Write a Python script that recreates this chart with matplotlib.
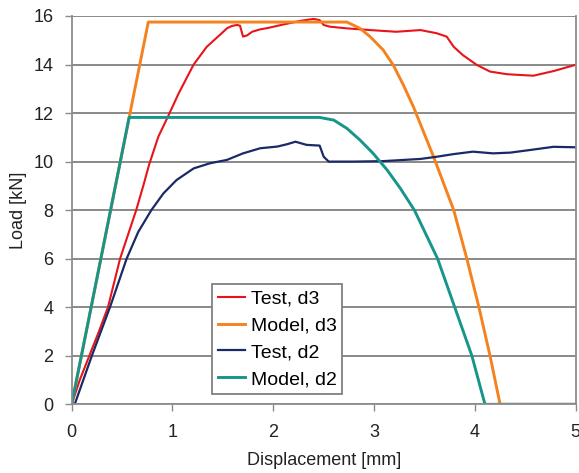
import matplotlib
matplotlib.use("Agg")
import matplotlib.pyplot as plt

plt.rcParams['font.family'] = ['Liberation Sans', 'DejaVu Sans']

# Test, d3
test_d3_x = [0.0, 0.08, 0.175, 0.27, 0.36, 0.48, 0.56, 0.64, 0.71, 0.77, 0.86, 0.96, 1.06, 1.21, 1.34, 1.47,
             1.54, 1.59, 1.64, 1.67, 1.70, 1.74, 1.79, 1.87, 1.94, 2.10, 2.27, 2.40, 2.46, 2.50, 2.56,
             2.73, 2.96, 3.22, 3.46, 3.62, 3.72, 3.79, 3.88, 4.02, 4.15, 4.32, 4.58, 4.78, 5.0]
test_d3_y = [0.0, 1.0, 2.0, 3.0, 4.0, 6.0, 7.0, 8.0, 9.0, 9.9, 11.03, 11.9, 12.8, 14.0, 14.73, 15.22,
             15.49, 15.59, 15.63, 15.6, 15.15, 15.2, 15.35, 15.45, 15.5, 15.65, 15.8, 15.88, 15.83, 15.63, 15.56,
             15.49, 15.42, 15.35, 15.42, 15.29, 15.15, 14.73, 14.39, 13.98, 13.71, 13.6, 13.54, 13.73, 13.99]

# Model, d3
model_d3_x = [0.0, 0.76, 2.73, 2.86, 2.96, 3.09, 3.19, 3.29, 3.39, 3.49, 3.59, 3.69, 3.79, 3.92, 4.04,
              4.15, 4.25, 5.0]
model_d3_y = [0.0, 15.75, 15.75, 15.49, 15.15, 14.6, 13.98, 13.16, 12.26, 11.23, 10.2, 9.1, 8.0, 6.0, 4.0,
              2.0, 0.0, 0.0]

# Test, d2
test_d2_x = [0.03, 0.115, 0.2, 0.29, 0.38, 0.545, 0.66, 0.79, 0.91, 1.04, 1.21, 1.37, 1.54, 1.70, 1.87,
             2.04, 2.14, 2.22, 2.33, 2.46, 2.50, 2.55, 2.79, 3.09, 3.46, 3.62, 3.79, 3.98, 4.18, 4.35,
             4.55, 4.78, 5.0]
test_d2_y = [0.0, 1.0, 2.0, 3.0, 4.0, 6.0, 7.1, 8.0, 8.69, 9.24, 9.72, 9.93, 10.07, 10.34, 10.55,
             10.62, 10.72, 10.82, 10.69, 10.66, 10.2, 10.0, 10.0, 10.02, 10.11, 10.2, 10.31, 10.41, 10.34, 10.37,
             10.48, 10.61, 10.59]

# Model, d2
model_d2_x = [0.0, 0.57, 2.46, 2.60, 2.73, 2.86, 2.99, 3.13, 3.26, 3.40, 3.63, 3.80, 3.97, 4.10, 5.0]
model_d2_y = [0.0, 11.82, 11.82, 11.71, 11.37, 10.89, 10.34, 9.65, 8.9, 8.0, 6.0, 4.0, 2.0, 0.0, 0.0]

x_ticks = [0, 1, 2, 3, 4, 5]
y_ticks = [0, 2, 4, 6, 8, 10, 12, 14, 16]

fig = plt.figure(figsize=(5.79, 4.73), dpi=100)
ax = fig.add_axes([0.1238, 0.1452, 0.8705, 0.821])

ax.plot(test_d3_x, test_d3_y, color='#E8141A', lw=1.5, label='Test, d3')
ax.plot(model_d3_x, model_d3_y, color='#F5821F', lw=2.1, label='Model, d3')
ax.plot(test_d2_x, test_d2_y, color='#1B2A66', lw=1.6, label='Test, d2')
ax.plot(model_d2_x, model_d2_y, color='#16958A', lw=2.1, label='Model, d2')

ax.set_xlim(0, 5)
ax.set_ylim(0, 16)
ax.set_xticks(x_ticks)
ax.set_yticks(y_ticks)
ax.tick_params(labelsize=13, length=5, width=1, direction='out',
               colors='#8C8C8C', labelcolor='#222222')
ax.tick_params(axis='x', pad=9)
ax.tick_params(axis='y', pad=8)
ax.yaxis.grid(True, color='#808080', lw=1.3)
ax.set_axisbelow(True)
for s in ax.spines.values():
    s.set_color('#8C8C8C')
    s.set_linewidth(1.3)
ax.spines['top'].set_visible(False)

ax.set_xlabel('Displacement [mm]', fontsize=13, color='#222222', labelpad=8)
ax.set_ylabel('Load [kN]', fontsize=13, color='#222222', labelpad=5)

leg = ax.legend(loc='lower left', bbox_to_anchor=(0.278, 0.0265), fontsize=14,
                handlelength=1.4, handletextpad=0.3, borderpad=0.3, labelspacing=0.48,
                fancybox=False, framealpha=1, edgecolor='#808080', borderaxespad=0)
leg.get_frame().set_linewidth(1.3)

fig.savefig('out.png', dpi=100)
